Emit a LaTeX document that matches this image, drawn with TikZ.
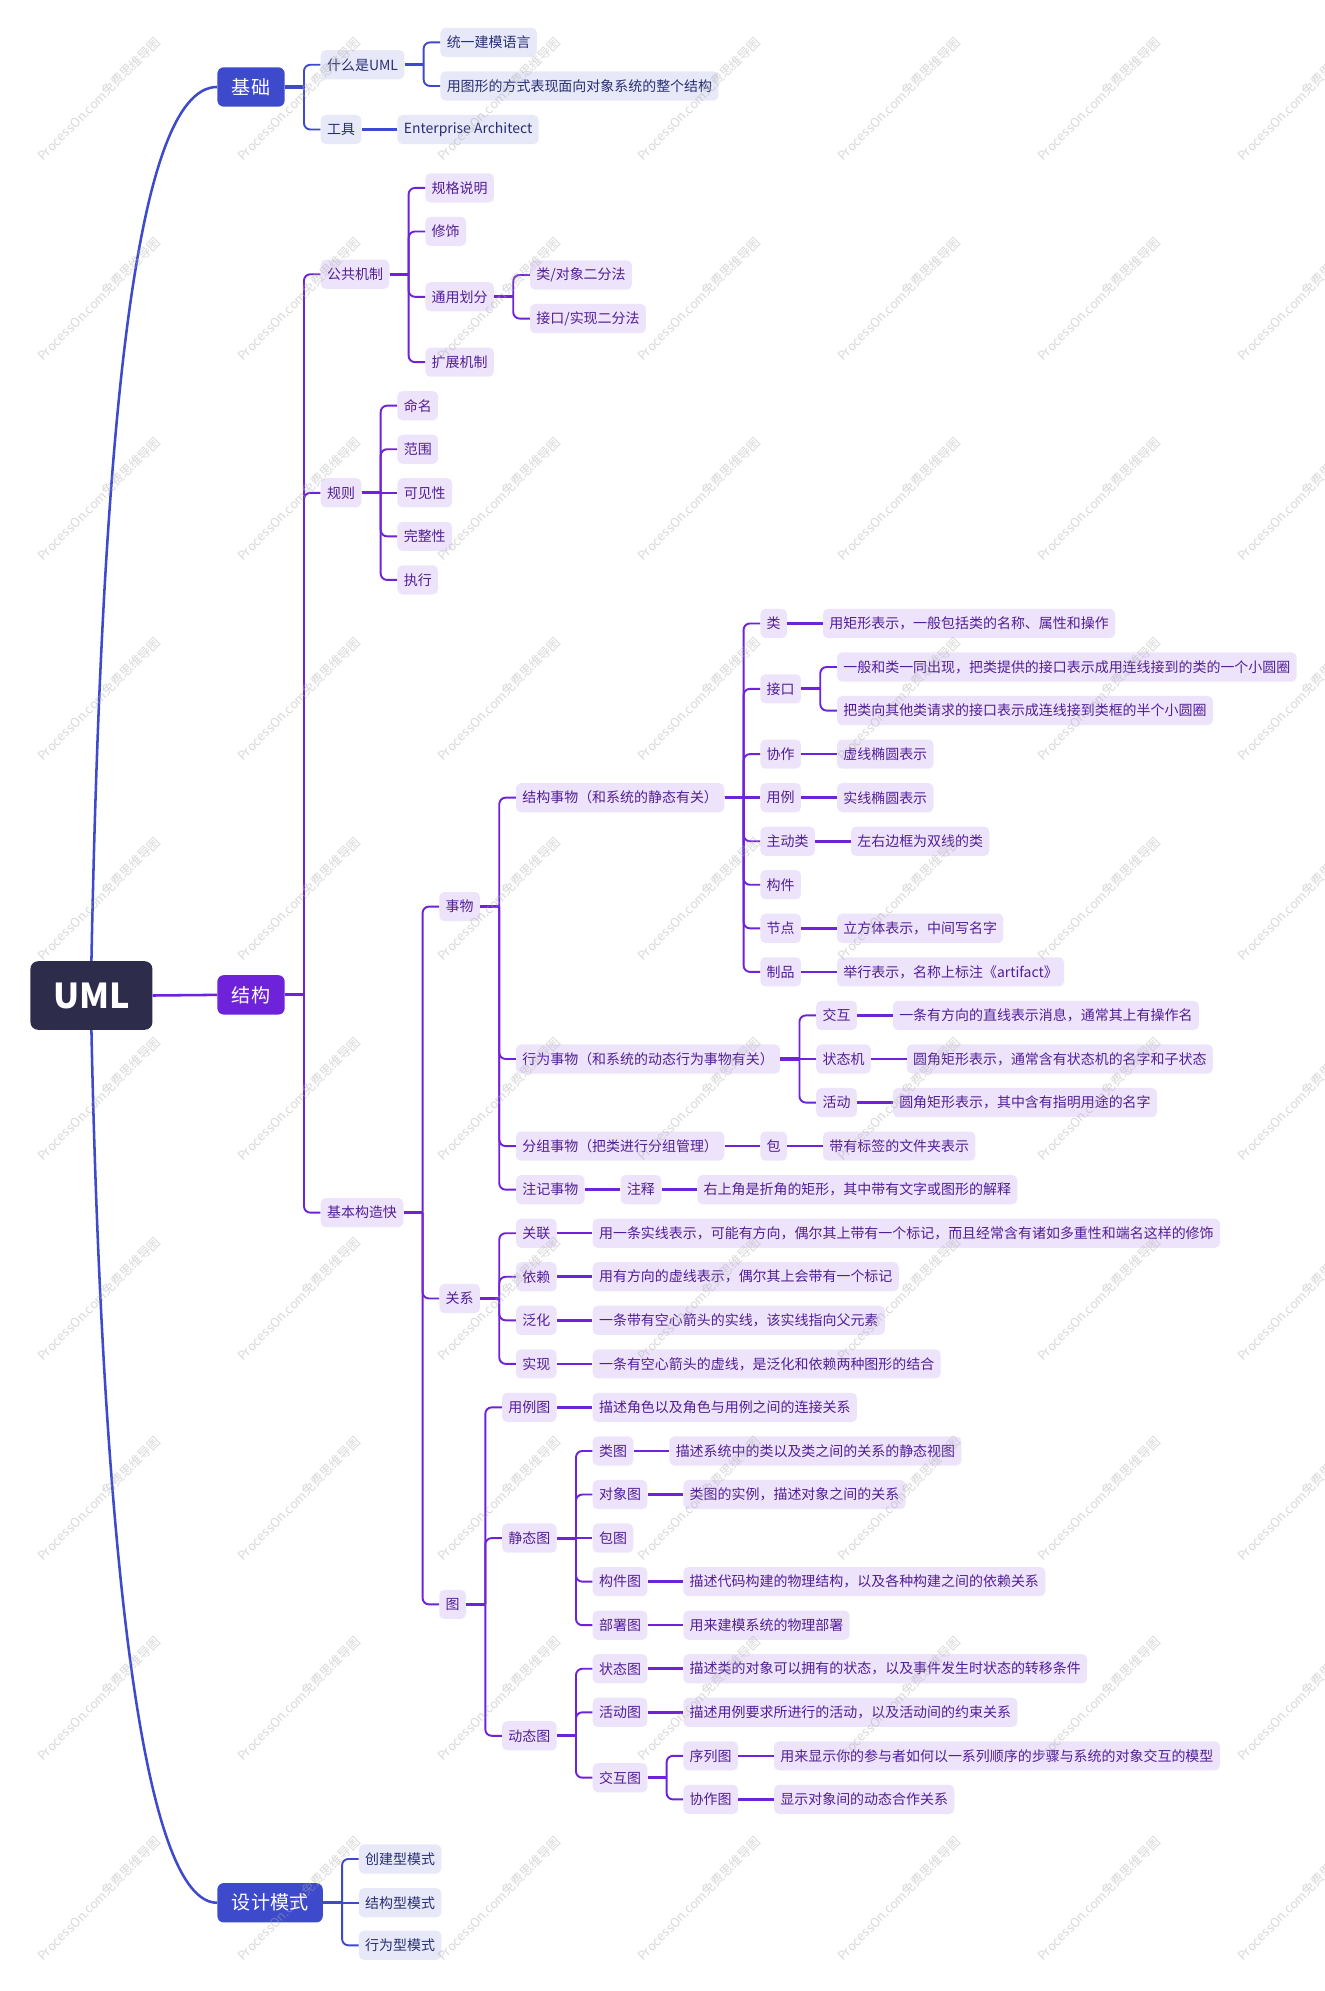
\documentclass[tikz,border=0pt]{standalone}
\usepackage{fontspec}
\setmainfont{Noto Sans CJK SC}
\usetikzlibrary{calc}
\definecolor{rootc}{RGB}{45,45,75}
\definecolor{bluec}{RGB}{61,74,204}
\definecolor{purc}{RGB}{110,34,218}
\definecolor{bluefill}{RGB}{231,233,248}
\definecolor{bluetext}{RGB}{40,46,115}
\definecolor{purfill}{RGB}{237,228,251}
\definecolor{purtext}{RGB}{82,30,150}
\definecolor{wmc}{RGB}{170,170,170}
\tikzset{
  umlroot/.style={fill=rootc, text=white, rounded corners=6pt, minimum width=96pt, minimum height=54pt, inner sep=0pt, font=\fontsize{27}{30}\selectfont\bfseries},
  topnode/.style={rounded corners=5pt, inner sep=0pt, inner xsep=11.5pt, minimum height=31pt, font=\fontsize{15}{17}\selectfont, text=white, anchor=west},
  basenode/.style={rounded corners=4pt, inner sep=0pt, inner xsep=5pt, minimum height=23pt, font=\fontsize{11}{13}\selectfont, anchor=west},
  bnode/.style={basenode, fill=bluefill, text=bluetext},
  pnode/.style={basenode, fill=purfill, text=purtext},
  bline/.style={draw=bluec, line width=1.5pt},
  pline/.style={draw=purc, line width=1.5pt},
  wmark/.style={text=wmc, opacity=0.45, rotate=45, font=\fontsize{10}{12}\selectfont, inner sep=0pt}
}
% elbow child: parent, name, y, node style, text, line style
\newcommand\mm[6]{%
  \path (#1.east) ++(28,0) coordinate (tmpc);
  \node[#4] (#2) at (tmpc |- 0,#3) {#5};
  \draw[#6, line width=2.4pt] (#1.east) -- ++(15,0);
  \draw[#6, rounded corners=5pt] ($(#1.east)+(15,0)$) |- (#2.west);
}
% straight child at the parent's height
\newcommand\ms[6]{%
  \path (#1.east) ++(28,0) coordinate (tmpc);
  \node[#4] (#2) at (tmpc |- 0,#3) {#5};
  \draw[#6, line width=2pt] (#1.east) -- (#2.west);
}
\begin{document}
\begin{tikzpicture}[x=1pt,y=-1pt]
\useasboundingbox (0,0) rectangle (1043,1568);
\fill[white] (0,0) rectangle (1043,1568);

% root and main branches
\node[umlroot] (uml) at (72,784) {UML};
\node[topnode, fill=bluec] (jc) at (171,68.5) {基础};
\node[topnode, fill=purc] (jg) at (171,783.5) {结构};
\node[topnode, fill=bluec] (sj) at (171,1498.5) {设计模式};
\draw[bluec, line width=2pt] (uml.north) .. controls (80,350) and (105,68.5) .. (jc.west);
\draw[bluec, line width=2pt] (uml.south) .. controls (78,1100) and (100,1498.5) .. (sj.west);
\draw[purc, line width=2pt] (uml.east) -- (jg.west);

% 基础
\mm{jc}{wuml}{51}{bnode}{什么是UML}{bline}
\mm{jc}{gj}{102}{bnode}{工具}{bline}
\mm{wuml}{tyjm}{33.4}{bnode}{统一建模语言}{bline}
\mm{wuml}{ytx}{67.7}{bnode}{用图形的方式表现面向对象系统的整个结构}{bline}
\ms{gj}{ea}{102}{bnode}{Enterprise Architect}{bline}

% 结构
\mm{jg}{ggjz}{216}{pnode}{公共机制}{pline}
\mm{jg}{gz}{388.1}{pnode}{规则}{pline}
\mm{jg}{jbgz}{955}{pnode}{基本构造快}{pline}

\mm{ggjz}{ggsm}{148}{pnode}{规格说明}{pline}
\mm{ggjz}{xs}{182.3}{pnode}{修饰}{pline}
\mm{ggjz}{tyhf}{233.75}{pnode}{通用划分}{pline}
\mm{ggjz}{kzjz}{285.2}{pnode}{扩展机制}{pline}
\mm{tyhf}{lfd}{216.6}{pnode}{类/对象二分法}{pline}
\mm{tyhf}{jfd}{250.9}{pnode}{接口/实现二分法}{pline}

\mm{gz}{mm}{319.5}{pnode}{命名}{pline}
\mm{gz}{fw}{353.8}{pnode}{范围}{pline}
\ms{gz}{kjx}{388.1}{pnode}{可见性}{pline}
\mm{gz}{wzx}{422.4}{pnode}{完整性}{pline}
\mm{gz}{zx}{456.7}{pnode}{执行}{pline}

\mm{jbgz}{sw}{714}{pnode}{事物}{pline}
\mm{jbgz}{gx}{1022.6}{pnode}{关系}{pline}
\mm{jbgz}{tu}{1263.5}{pnode}{图}{pline}

\mm{sw}{jgsw}{628.2}{pnode}{结构事物（和系统的静态有关）}{pline}
\mm{sw}{xwsw}{834}{pnode}{行为事物（和系统的动态行为事物有关）}{pline}
\mm{sw}{fzsw}{902.6}{pnode}{分组事物（把类进行分组管理）}{pline}
\mm{sw}{zjsw}{936.9}{pnode}{注记事物}{pline}

\mm{jgsw}{lei}{491}{pnode}{类}{pline}
\mm{jgsw}{jk}{542.5}{pnode}{接口}{pline}
\mm{jgsw}{xz}{593.9}{pnode}{协作}{pline}
\ms{jgsw}{yl}{628.2}{pnode}{用例}{pline}
\mm{jgsw}{zdl}{662.5}{pnode}{主动类}{pline}
\mm{jgsw}{gjian}{696.8}{pnode}{构件}{pline}
\mm{jgsw}{jd}{731.1}{pnode}{节点}{pline}
\mm{jgsw}{zp}{765.4}{pnode}{制品}{pline}

\ms{lei}{d1}{491}{pnode}{用矩形表示，一般包括类的名称、属性和操作}{pline}
\mm{jk}{d2a}{525.3}{pnode}{一般和类一同出现，把类提供的接口表示成用连线接到的类的一个小圆圈}{pline}
\mm{jk}{d2b}{559.6}{pnode}{把类向其他类请求的接口表示成连线接到类框的半个小圆圈}{pline}
\ms{xz}{d3}{593.9}{pnode}{虚线椭圆表示}{pline}
\ms{yl}{d4}{628.2}{pnode}{实线椭圆表示}{pline}
\ms{zdl}{d5}{662.5}{pnode}{左右边框为双线的类}{pline}
\ms{jd}{d6}{731.1}{pnode}{立方体表示，中间写名字}{pline}
\ms{zp}{d7}{765.4}{pnode}{举行表示，名称上标注《artifact》}{pline}

\mm{xwsw}{jh}{799.7}{pnode}{交互}{pline}
\ms{xwsw}{ztj}{834}{pnode}{状态机}{pline}
\mm{xwsw}{hd}{868.3}{pnode}{活动}{pline}
\ms{jh}{d8}{799.7}{pnode}{一条有方向的直线表示消息，通常其上有操作名}{pline}
\ms{ztj}{d9}{834}{pnode}{圆角矩形表示，通常含有状态机的名字和子状态}{pline}
\ms{hd}{d10}{868.3}{pnode}{圆角矩形表示，其中含有指明用途的名字}{pline}

\ms{fzsw}{bao}{902.6}{pnode}{包}{pline}
\ms{bao}{d11}{902.6}{pnode}{带有标签的文件夹表示}{pline}
\ms{zjsw}{zs}{936.9}{pnode}{注释}{pline}
\ms{zs}{d12}{936.9}{pnode}{右上角是折角的矩形，其中带有文字或图形的解释}{pline}

\mm{gx}{gl}{971.2}{pnode}{关联}{pline}
\mm{gx}{yl2}{1005.5}{pnode}{依赖}{pline}
\mm{gx}{fh}{1039.8}{pnode}{泛化}{pline}
\mm{gx}{sx}{1074.1}{pnode}{实现}{pline}
\ms{gl}{d13}{971.2}{pnode}{用一条实线表示，可能有方向，偶尔其上带有一个标记，而且经常含有诸如多重性和端名这样的修饰}{pline}
\ms{yl2}{d14}{1005.5}{pnode}{用有方向的虚线表示，偶尔其上会带有一个标记}{pline}
\ms{fh}{d15}{1039.8}{pnode}{一条带有空心箭头的实线，该实线指向父元素}{pline}
\ms{sx}{d16}{1074.1}{pnode}{一条有空心箭头的虚线，是泛化和依赖两种图形的结合}{pline}

\mm{tu}{ylt}{1108.4}{pnode}{用例图}{pline}
\mm{tu}{jtt}{1211.3}{pnode}{静态图}{pline}
\mm{tu}{dtt}{1367}{pnode}{动态图}{pline}
\ms{ylt}{d17}{1108.4}{pnode}{描述角色以及角色与用例之间的连接关系}{pline}

\mm{jtt}{lt}{1142.7}{pnode}{类图}{pline}
\mm{jtt}{dxt}{1177}{pnode}{对象图}{pline}
\ms{jtt}{bt}{1211.3}{pnode}{包图}{pline}
\mm{jtt}{gjt}{1245.6}{pnode}{构件图}{pline}
\mm{jtt}{bst}{1279.9}{pnode}{部署图}{pline}
\ms{lt}{d18}{1142.7}{pnode}{描述系统中的类以及类之间的关系的静态视图}{pline}
\ms{dxt}{d19}{1177}{pnode}{类图的实例，描述对象之间的关系}{pline}
\ms{gjt}{d20}{1245.6}{pnode}{描述代码构建的物理结构，以及各种构建之间的依赖关系}{pline}
\ms{bst}{d21}{1279.9}{pnode}{用来建模系统的物理部署}{pline}

\mm{dtt}{ztt}{1314.2}{pnode}{状态图}{pline}
\mm{dtt}{hdt}{1348.5}{pnode}{活动图}{pline}
\mm{dtt}{jht}{1400}{pnode}{交互图}{pline}
\ms{ztt}{d22}{1314.2}{pnode}{描述类的对象可以拥有的状态，以及事件发生时状态的转移条件}{pline}
\ms{hdt}{d23}{1348.5}{pnode}{描述用例要求所进行的活动，以及活动间的约束关系}{pline}
\mm{jht}{xlt}{1382.8}{pnode}{序列图}{pline}
\mm{jht}{xzt}{1417.1}{pnode}{协作图}{pline}
\ms{xlt}{d24}{1382.8}{pnode}{用来显示你的参与者如何以一系列顺序的步骤与系统的对象交互的模型}{pline}
\ms{xzt}{d25}{1417.1}{pnode}{显示对象间的动态合作关系}{pline}

% 设计模式
\mm{sj}{cjx}{1464}{bnode}{创建型模式}{bline}
\ms{sj}{jgx}{1498.5}{bnode}{结构型模式}{bline}
\mm{sj}{xwx}{1532}{bnode}{行为型模式}{bline}

% watermark
\foreach \i in {0,...,6}{
  \foreach \j in {0,...,9}{
    \node[wmark] (wm-\i-\j) at ({78+157.5*\i},{78+157.5*\j}) {ProcessOn.com免费思维导图};
  }
}
\end{tikzpicture}
\end{document}
